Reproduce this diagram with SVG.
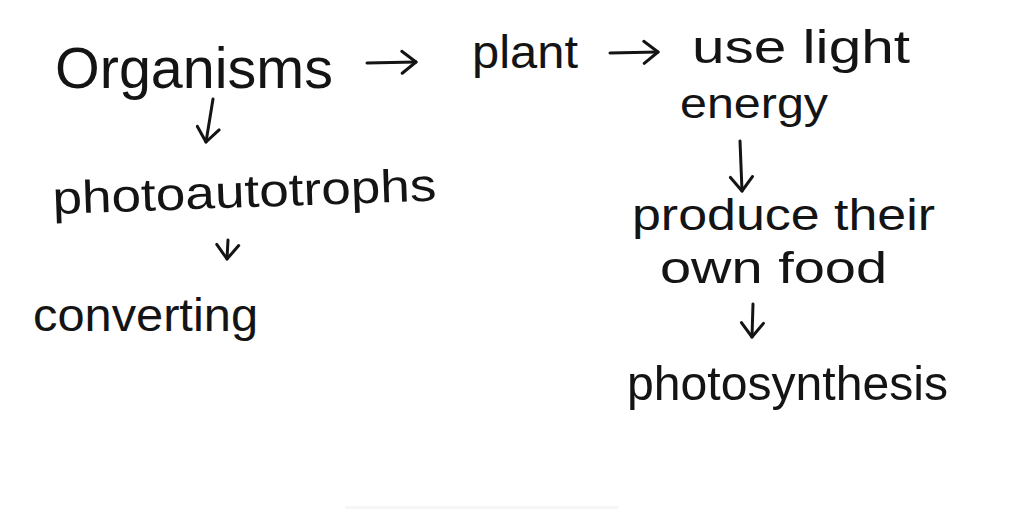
<svg xmlns="http://www.w3.org/2000/svg" width="1024" height="512" viewBox="0 0 1024 512">
<style>
  .t { font-family: "Liberation Sans", "DejaVu Sans", sans-serif; fill: #141414; }
  .c { fill: none; stroke: #141414; stroke-width: 3; stroke-linecap: round; stroke-linejoin: round; }
</style>
<defs>
  <marker id="head" viewBox="-16 -13 18 26" refX="0" refY="0" markerWidth="18" markerHeight="26" markerUnits="userSpaceOnUse" orient="auto">
    <path d="M-14,-11 L0,0 L-14,11" fill="none" stroke="#141414" stroke-width="3" stroke-linecap="round" stroke-linejoin="round"/>
  </marker>
</defs>
<rect width="1024" height="512" fill="#ffffff"/>
<rect x="345" y="506" width="273" height="3" fill="#f6f6f6"/>

<g id="connectors">
  <path class="c" d="M367,63 L416,62" marker-end="url(#head)"/>
  <path class="c" d="M610,53 L658,52" marker-end="url(#head)"/>
  <path class="c" d="M213,99 L206,142" marker-end="url(#head)"/>
  <path class="c" d="M228,240 L227,259" marker-end="url(#head)"/>
  <path class="c" d="M740,141 L742,191" marker-end="url(#head)"/>
  <path class="c" d="M753,304 L752,337" marker-end="url(#head)"/>
</g>

<g id="organisms">
  <text class="t" x="55" y="88" font-size="58" textLength="278" lengthAdjust="spacingAndGlyphs">Organisms</text>
</g>
<g id="plant">
  <text class="t" x="472" y="68" font-size="46" textLength="106" lengthAdjust="spacingAndGlyphs">plant</text>
</g>
<g id="use-light-energy">
  <text class="t" x="692" y="63" font-size="46" textLength="218" lengthAdjust="spacingAndGlyphs">use light</text>
  <text class="t" x="680" y="118" font-size="42" textLength="148" lengthAdjust="spacingAndGlyphs">energy</text>
</g>
<g id="photoautotrophs">
  <text class="t" x="53" y="214" font-size="46" textLength="384" lengthAdjust="spacingAndGlyphs" transform="rotate(-2 53 214)">photoautotrophs</text>
</g>
<g id="converting">
  <text class="t" x="33" y="331" font-size="46" textLength="225" lengthAdjust="spacingAndGlyphs">converting</text>
</g>
<g id="produce-their-own-food">
  <text class="t" x="632" y="230" font-size="44" textLength="303" lengthAdjust="spacingAndGlyphs">produce their</text>
  <text class="t" x="660" y="283" font-size="44" textLength="227" lengthAdjust="spacingAndGlyphs">own food</text>
</g>
<g id="photosynthesis">
  <text class="t" x="627" y="400" font-size="48" textLength="321" lengthAdjust="spacingAndGlyphs">photosynthesis</text>
</g>
</svg>
